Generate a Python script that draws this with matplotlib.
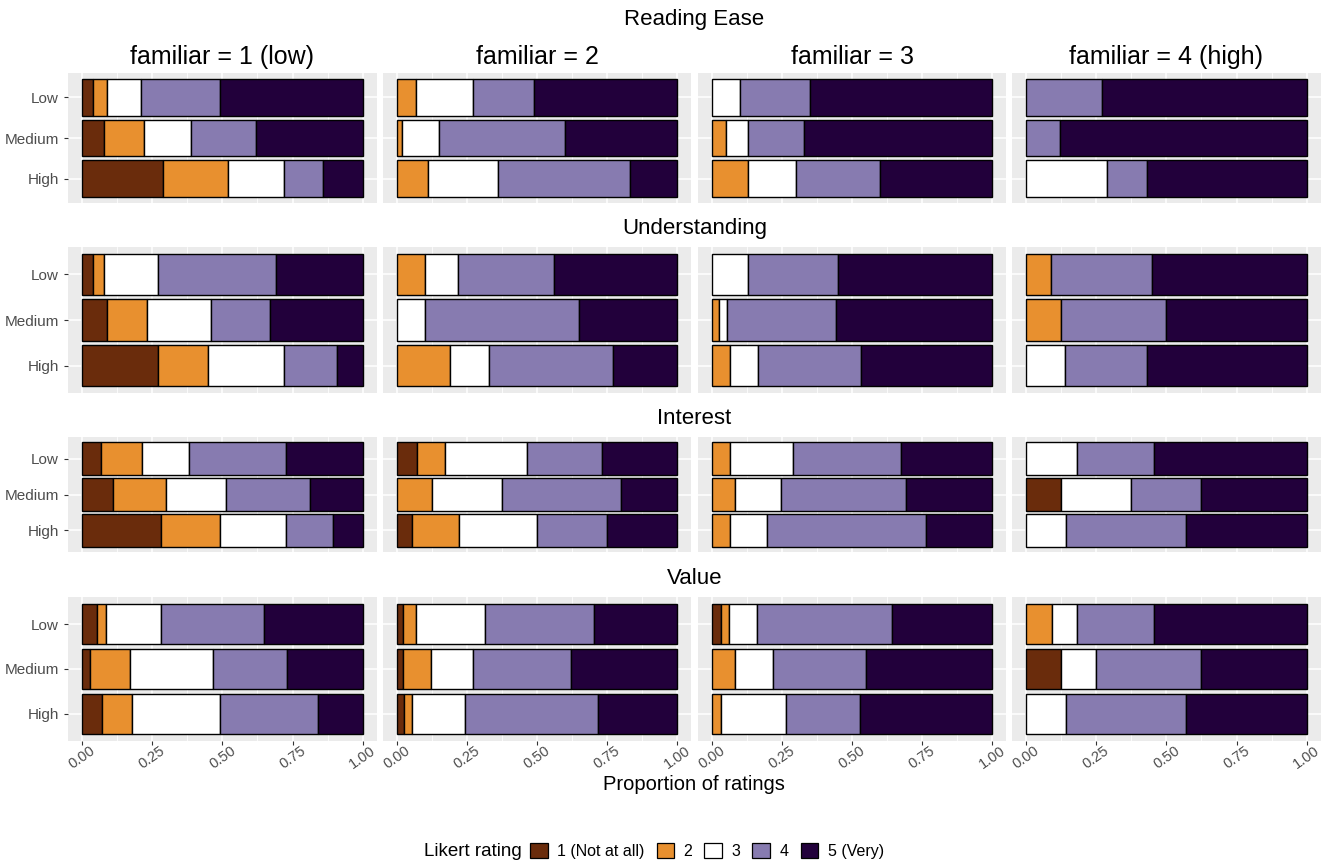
import numpy as np
import matplotlib
matplotlib.use("Agg")
import matplotlib.pyplot as plt
from matplotlib.patches import Patch

plt.rcParams["font.family"] = ["Liberation Sans", "DejaVu Sans"]

# ---- data -------------------------------------------------------------
measures = ["Reading Ease", "Understanding", "Interest", "Value"]
familiar = ["familiar = 1 (low)", "familiar = 2", "familiar = 3", "familiar = 4 (high)"]
levels = ["Low", "Medium", "High"]
ratings = ["1 (Not at all)", "2", "3", "4", "5 (Very)"]
rating_colors = ["#6A2C0C", "#E8902F", "#FFFFFF", "#877BB0", "#22003B"]
x_ticks = [0.0, 0.25, 0.5, 0.75, 1.0]
x_tick_labels = ["0.00", "0.25", "0.50", "0.75", "1.00"]

# proportion of ratings 1..5 for each familiarity column, rows Low / Medium / High
reading_ease = [
    [[0.04, 0.05, 0.12, 0.28, 0.51], [0.08, 0.14, 0.17, 0.23, 0.38], [0.29, 0.23, 0.20, 0.14, 0.14]],
    [[0.00, 0.07, 0.20, 0.22, 0.51], [0.00, 0.02, 0.13, 0.45, 0.40], [0.00, 0.11, 0.25, 0.47, 0.17]],
    [[0.00, 0.00, 0.10, 0.25, 0.65], [0.00, 0.05, 0.08, 0.20, 0.67], [0.00, 0.13, 0.17, 0.30, 0.40]],
    [[0.00, 0.00, 0.00, 0.27, 0.73], [0.00, 0.00, 0.00, 0.12, 0.88], [0.00, 0.00, 0.29, 0.14, 0.57]],
]
understanding = [
    [[0.04, 0.04, 0.19, 0.42, 0.31], [0.09, 0.14, 0.23, 0.21, 0.33], [0.27, 0.18, 0.27, 0.19, 0.09]],
    [[0.00, 0.10, 0.12, 0.34, 0.44], [0.00, 0.00, 0.10, 0.55, 0.35], [0.00, 0.19, 0.14, 0.44, 0.23]],
    [[0.00, 0.00, 0.13, 0.32, 0.55], [0.00, 0.026, 0.029, 0.388, 0.557], [0.00, 0.065, 0.10, 0.367, 0.468]],
    [[0.00, 0.09, 0.00, 0.36, 0.55], [0.00, 0.125, 0.00, 0.375, 0.50], [0.00, 0.00, 0.14, 0.29, 0.57]],
]
interest = [
    [[0.067, 0.145, 0.169, 0.346, 0.273], [0.111, 0.188, 0.213, 0.299, 0.189], [0.281, 0.209, 0.236, 0.170, 0.104]],
    [[0.074, 0.097, 0.292, 0.267, 0.270], [0.00, 0.125, 0.249, 0.425, 0.201], [0.056, 0.167, 0.276, 0.251, 0.250]],
    [[0.00, 0.064, 0.225, 0.386, 0.325], [0.00, 0.082, 0.164, 0.447, 0.307], [0.00, 0.064, 0.132, 0.568, 0.236]],
    [[0.00, 0.00, 0.181, 0.275, 0.544], [0.125, 0.00, 0.25, 0.25, 0.375], [0.00, 0.00, 0.142, 0.427, 0.431]],
]
value = [
    [[0.053, 0.032, 0.196, 0.367, 0.352], [0.028, 0.143, 0.295, 0.264, 0.270], [0.071, 0.107, 0.313, 0.349, 0.160]],
    [[0.022, 0.046, 0.247, 0.388, 0.297], [0.022, 0.100, 0.150, 0.348, 0.380], [0.025, 0.029, 0.190, 0.473, 0.283]],
    [[0.032, 0.029, 0.100, 0.482, 0.357], [0.00, 0.082, 0.136, 0.332, 0.450], [0.00, 0.032, 0.232, 0.265, 0.471]],
    [[0.00, 0.093, 0.088, 0.275, 0.544], [0.125, 0.00, 0.125, 0.375, 0.375], [0.00, 0.00, 0.142, 0.427, 0.431]],
]
all_data = [reading_ease, understanding, interest, value]

# ---- layout (pixels) --------------------------------------------------
W, H = 1335, 865
fig = plt.figure(figsize=(W / 100, H / 100), dpi=100)
fig.patch.set_facecolor("white")

col_left = [68, 382.7, 697.7, 1012]
panel_w = 308.7
row_span = [(73, 203), (247, 393), (437, 552), (597, 741)]
title_y = [19, 229, 418, 578]
strip_y = 57

GRID_BG = "#EBEBEB"
TEXT_GREY = "#4D4D4D"


def add_px_axes(left, top, width, height):
    return fig.add_axes([left / W, 1 - (top + height) / H, width / W, height / H])


for r, (measure, data) in enumerate(zip(measures, all_data)):
    top, bottom = row_span[r]
    fig.text((col_left[0] + col_left[-1] + panel_w) / 2 / W, 1 - title_y[r] / H,
             measure, ha="center", va="center", fontsize=16, color="black")
    for c in range(4):
        ax = add_px_axes(col_left[c], top, panel_w, bottom - top)
        ax.set_facecolor(GRID_BG)
        for s in ax.spines.values():
            s.set_visible(False)
        ypos = np.array([3, 2, 1])
        props = np.array(data[c], dtype=float)
        props = props / props.sum(axis=1, keepdims=True)
        lefts = np.zeros(3)
        for k in range(5):
            w = props[:, k]
            mask = w > 0
            ax.barh(ypos[mask], w[mask], left=lefts[mask], height=0.9,
                    color=rating_colors[k], edgecolor="black", linewidth=1.0, zorder=3)
            lefts = lefts + w
        ax.set_xlim(-0.05, 1.05)
        ax.set_ylim(0.4, 3.6)
        ax.set_xticks(x_ticks)
        ax.set_xticks([0.125, 0.375, 0.625, 0.875], minor=True)
        ax.set_yticks(ypos)
        ax.grid(True, which="major", color="white", linewidth=1.1, zorder=0)
        ax.grid(True, which="minor", axis="x", color="white", linewidth=0.55, zorder=0)
        ax.set_axisbelow(True)
        ax.tick_params(which="minor", length=0)
        ax.tick_params(which="major", color="#333333", length=3, width=0.8)
        if c == 0:
            ax.set_yticklabels(levels, fontsize=11, color=TEXT_GREY)
        else:
            ax.set_yticklabels([])
            ax.tick_params(axis="y", length=0)
        if r == 3:
            ax.set_xticklabels(x_tick_labels, fontsize=10.5, color=TEXT_GREY,
                               rotation=35, ha="center", va="center",
                               rotation_mode="anchor")
            ax.tick_params(axis="x", pad=9)
        else:
            ax.set_xticklabels([])
            ax.tick_params(axis="x", length=0)
        if r == 0:
            fig.text((col_left[c] + panel_w / 2) / W, 1 - strip_y / H, familiar[c],
                     ha="center", va="center", fontsize=18, color="black")

# axis title
fig.text((col_left[0] + col_left[-1] + panel_w) / 2 / W, 1 - 785 / H,
         "Proportion of ratings", ha="center", va="center", fontsize=14.5)

# legend
handles = [Patch(facecolor=col, edgecolor="black", linewidth=0.9) for col in rating_colors]
fig.text(522 / W, 1 - 851 / H, "Likert rating", ha="right", va="center", fontsize=13.5)
fig.legend(handles, ratings, loc="center left", bbox_to_anchor=(530 / W, 1 - 851 / H),
           ncol=5, frameon=False, fontsize=11.5, handlelength=1.1, handleheight=1.1,
           handletextpad=0.6, columnspacing=0.75, borderpad=0, borderaxespad=0)

fig.savefig("out.png", dpi=100)
